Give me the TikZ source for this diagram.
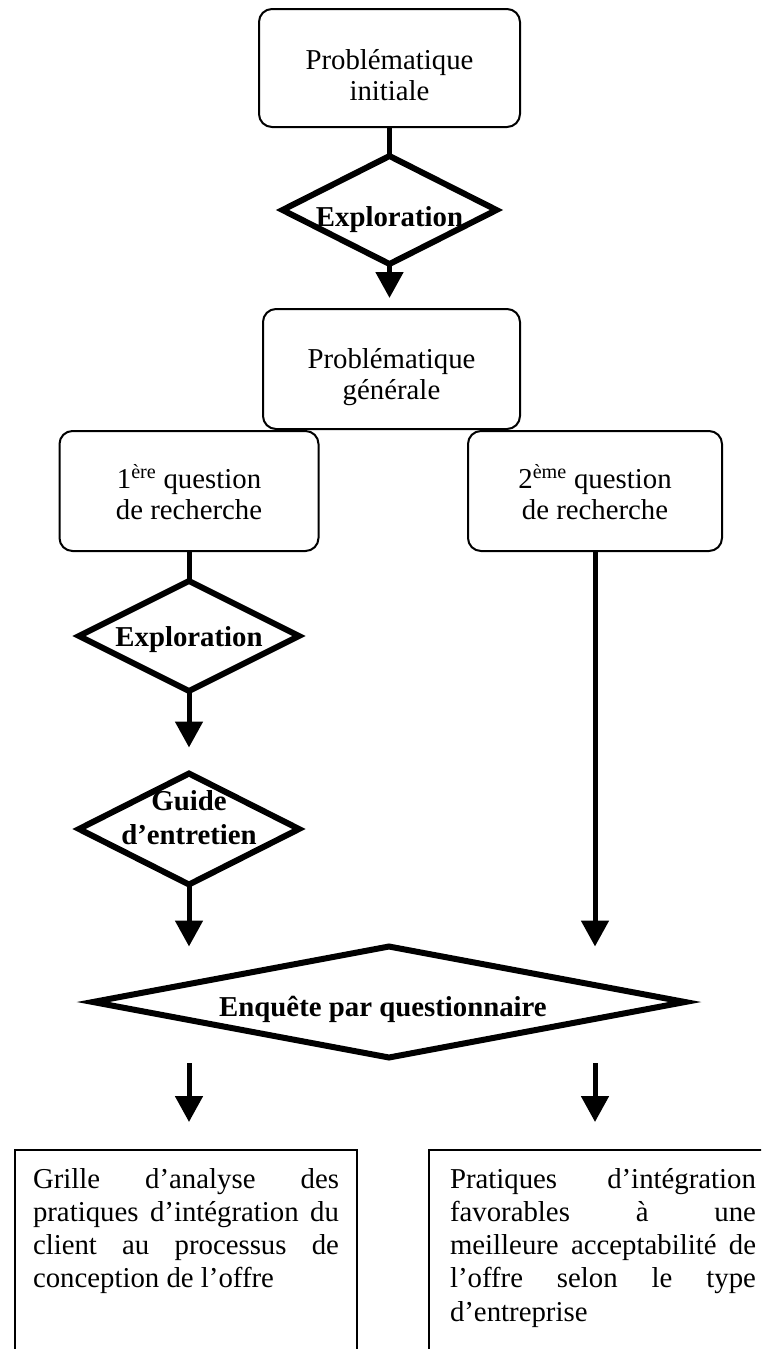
\documentclass[tikz,border=0pt]{standalone}
\usepackage{fontspec}
\setmainfont{Liberation Serif}
\usetikzlibrary{shapes.geometric,arrows.meta}
\begin{document}
\begin{tikzpicture}[x=1pt,y=1pt,
  every node/.style={outer sep=0pt},
  rbox/.style={draw, line width=2pt, rounded corners=13pt, inner sep=0pt},
  sbox/.style={draw, line width=2.5pt, inner sep=0pt, anchor=north west},
  dia/.style={draw, diamond, line width=6pt, inner sep=0pt},
  txt/.style={inner sep=0pt, anchor=base, font=\fontsize{28.8}{31}\selectfont},
  btxt/.style={inner sep=0pt, anchor=base, font=\fontsize{28.8}{34}\selectfont\bfseries},
  ptxt/.style={inner sep=0pt, anchor=base west, font=\fontsize{28.8}{33.3}\selectfont},
  conn/.style={line width=5pt},
  arr/.style={line width=5pt, -{Triangle[width=27pt,length=26pt]}},
]
\useasboundingbox (0,0) rectangle (761,-1349);
\clip (0,0) rectangle (761,-1349);

% boxes
\node[rbox, minimum width=261, minimum height=118] (b1) at (389.5,-68) {};
\node[txt] (t1) at (389.5,-69) {\begin{tabular}[t]{@{}c@{}}Problématique\\initiale\end{tabular}};

\node[dia, minimum width=214, minimum height=108] (d1) at (389.5,-210) {};
\node[btxt] (e1) at (389.5,-226) {Exploration};

\node[rbox, minimum width=257, minimum height=120] (b2) at (391.5,-369) {};
\node[txt] (t2) at (391.5,-368) {\begin{tabular}[t]{@{}c@{}}Problématique\\générale\end{tabular}};

\node[rbox, minimum width=259, minimum height=120] (b3) at (189,-491) {};
\node[txt] (t3) at (189,-488) {\begin{tabular}[t]{@{}c@{}}1\textsuperscript{ère} question\\de recherche\end{tabular}};

\node[rbox, minimum width=254, minimum height=120] (b4) at (595,-491) {};
\node[txt] (t4) at (595,-488) {\begin{tabular}[t]{@{}c@{}}2\textsuperscript{ème} question\\de recherche\end{tabular}};

\node[dia, minimum width=220, minimum height=110] (d2) at (189,-636) {};
\node[btxt] (e2) at (189,-646) {Exploration};

\node[dia, minimum width=220, minimum height=111] (d3) at (189,-829) {};
\node[btxt] (e3) at (189,-810) {\begin{tabular}[t]{@{}c@{}}Guide\\d’entretien\end{tabular}};

\node[dia, minimum width=592, minimum height=111] (bd) at (389,-1002) {};
\node[btxt] (e4) at (383,-1016) {Enquête par questionnaire};

\node[sbox, minimum width=342, minimum height=300] (g) at (15,-1150) {};
\node[ptxt] (gt) at (33,-1188) {\begin{tabular}[t]{@{}l@{}}%
\makebox[306pt][s]{Grille d’analyse des}\\
\makebox[306pt][s]{pratiques d’intégration du}\\
\makebox[306pt][s]{client au processus de}\\
conception de l’offre\end{tabular}};

\node[sbox, minimum width=350, minimum height=300] (p) at (429,-1150) {};
\node[ptxt] (pt) at (450,-1188) {\begin{tabular}[t]{@{}l@{}}%
\makebox[306pt][s]{Pratiques d’intégration}\\
\makebox[306pt][s]{favorables à une}\\
\makebox[306pt][s]{meilleure acceptabilité de}\\
\makebox[306pt][s]{l’offre selon le type}\\
d’entreprise\end{tabular}};

% connectors
\draw[conn] (b1.south) -- (d1.north);
\draw[arr, shorten >=11pt] (d1.south) -- (d1.south |- b2.north);
\draw[conn] (b3.south) -- (d2.north);
\draw[arr, shorten >=26pt] (d2.south) -- (d3.north);
\draw[arr] (d3.south) -- (d3.south |- bd.north);
\draw[arr] (b4.south) -- (b4.south |- bd.north);

\coordinate (s5) at (189,-1063);
\coordinate (e5) at (189,-1122);
\coordinate (s6) at (595,-1063);
\coordinate (e6) at (595,-1122);
\draw[arr] (s5) -- (e5);
\draw[arr] (s6) -- (e6);
\end{tikzpicture}
\end{document}
